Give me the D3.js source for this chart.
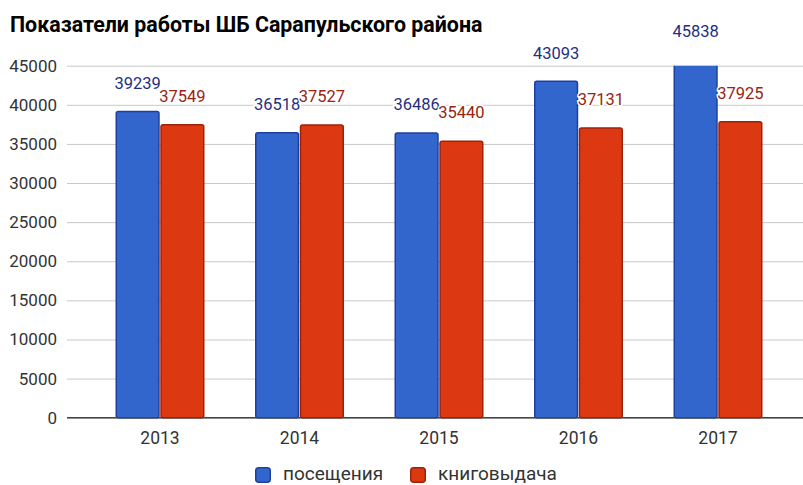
<!DOCTYPE html>
<html>
<head>
<meta charset="utf-8">
<script src="https://cdn.jsdelivr.net/npm/d3@7"></script>
<style>
  body { margin: 0; background: #fff; }
  svg { font-family: Roboto, "Noto Sans", sans-serif; }
</style>
</head>
<body>
<svg id="chart" width="803" height="485"></svg>
<script>
// data
const years = ["2013", "2014", "2015", "2016", "2017"];
const seriesNames = ["посещения", "книговыдача"];
const visits = [39239, 36518, 36486, 43093, 45838];
const books = [37549, 37527, 35440, 37131, 37925];
const yTicks = [0, 5000, 10000, 15000, 20000, 25000, 30000, 35000, 40000, 45000];

const fills = ["#3366cc", "#dc3912"];
const strokes = ["#1f3f9e", "#9e2208"];
const labelColors = ["#1f2f80", "#992410"];

const svg = d3.select("#chart"),
    width = +svg.attr("width"),
    height = +svg.attr("height");

// plot area
const plotLeft = 67, plotRight = 803, plotTop = 65.7, plotBottom = 417.7;

const x0 = d3.scaleBand().domain(years).range([90.25, 787.75]);
const x1 = d3.scaleBand().domain(seriesNames).range([-44.5, 44.5]).paddingInner(0.012);
const y = d3.scaleLinear().domain([0, 45000]).range([plotBottom, plotTop]);

// title
svg.append("text")
    .attr("x", 10)
    .attr("y", 32)
    .attr("font-size", 21.4)
    .attr("font-weight", "bold")
    .attr("fill", "#000")
    .text("Показатели работы ШБ Сарапульского района");

// grid + y labels
const yAxis = svg.append("g")
    .attr("transform", "translate(" + plotLeft + ",0)")
    .call(d3.axisLeft(y).tickValues(yTicks).tickFormat(d3.format("d"))
        .tickSizeInner(-(plotRight - plotLeft)).tickSizeOuter(0).tickPadding(10));
yAxis.select(".domain").remove();
yAxis.selectAll(".tick line").attr("stroke", "#c8c8c8").attr("stroke-width", 1);
yAxis.selectAll(".tick text")
    .attr("font-size", 17)
    .attr("fill", "#333")
    .attr("font-family", "Roboto, sans-serif");

// clip so that bars stop at the top of the plot
svg.append("clipPath").attr("id", "plot-clip")
    .append("rect").attr("x", plotLeft).attr("y", plotTop).attr("width", plotRight - plotLeft).attr("height", plotBottom - plotTop + 2);

const rows = years.map((yr, i) => ({ year: yr, values: [visits[i], books[i]] }));

const groups = svg.append("g").attr("clip-path", "url(#plot-clip)")
    .selectAll("g")
    .data(rows)
    .enter()
    .append("g")
    .attr("transform", d => "translate(" + (x0(d.year) + x0.bandwidth() / 2) + ",0)");

groups.selectAll("rect")
    .data(d => d.values.map((v, k) => ({ v: v, k: k })))
    .enter()
    .append("rect")
    .attr("x", d => x1(seriesNames[d.k]) + 0.75)
    .attr("y", d => y(d.v) + 0.75)
    .attr("width", x1.bandwidth() - 1.5)
    .attr("height", d => plotBottom - y(d.v) - 0.75)
    .attr("rx", 2)
    .attr("fill", d => fills[d.k])
    .attr("stroke", d => strokes[d.k])
    .attr("stroke-width", 1.5);

// baseline
svg.append("line")
    .attr("x1", plotLeft).attr("x2", plotRight)
    .attr("y1", plotBottom).attr("y2", plotBottom)
    .attr("stroke", "#444")
    .attr("stroke-width", 1.5);

// annotations
const labels = svg.append("g");
rows.forEach(d => {
    d.values.forEach((v, k) => {
        labels.append("text")
            .attr("x", x0(d.year) + x0.bandwidth() / 2 + x1(seriesNames[k]) + x1.bandwidth() / 2)
            .attr("y", y(v) - 22)
            .attr("text-anchor", "middle")
            .attr("font-size", 16.5)
            .attr("fill", labelColors[k])
            .attr("stroke", "#fff")
            .attr("stroke-width", 3)
            .attr("paint-order", "stroke")
            .text(v);
    });
});

// x labels
svg.append("g").selectAll("text")
    .data(years)
    .enter()
    .append("text")
    .attr("x", d => x0(d) + x0.bandwidth() / 2)
    .attr("y", 444)
    .attr("text-anchor", "middle")
    .attr("font-size", 17.5)
    .attr("fill", "#333")
    .text(d => d);

// legend
const legendX = [255, 410];
const legend = svg.append("g");
seriesNames.forEach((name, k) => {
    legend.append("rect")
        .attr("x", legendX[k] + 0.75).attr("y", 467.75)
        .attr("width", 14.5).attr("height", 14.5)
        .attr("rx", 3)
        .attr("fill", fills[k])
        .attr("stroke", strokes[k])
        .attr("stroke-width", 1.5);
    legend.append("text")
        .attr("x", legendX[k] + 28)
        .attr("y", 480)
        .attr("font-size", 19)
        .attr("fill", "#333")
        .text(name);
});
</script>
</body>
</html>
